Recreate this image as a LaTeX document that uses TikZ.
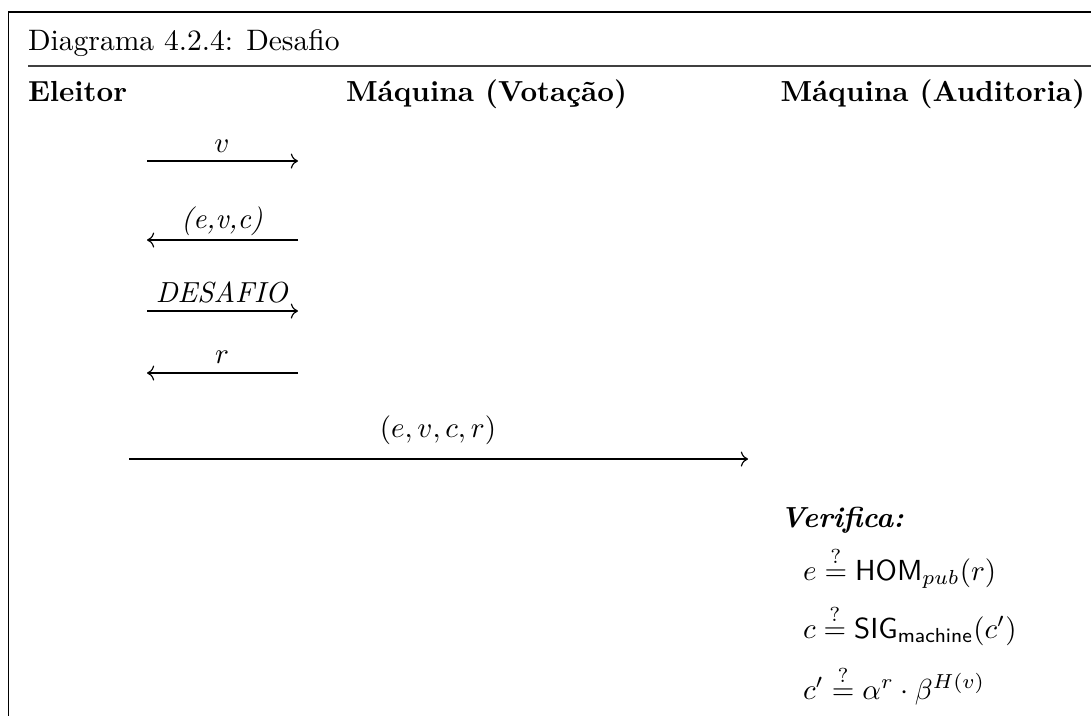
\documentclass[tikz,border=0pt]{standalone}
\usepackage{fontspec}
\usepackage{amsmath}
\usetikzlibrary{arrows.meta}
\begin{document}
\begin{tikzpicture}[x=0.3448pt,y=-0.3448pt,
  txt/.style={inner sep=0pt, outer sep=0pt, font=\fontsize{10}{12}\selectfont},
  hdr/.style={inner sep=0pt, outer sep=0pt, font=\fontsize{10}{12}\selectfont\bfseries},
  ttl/.style={inner sep=0pt, outer sep=0pt, font=\fontsize{10.2}{12}\selectfont},
  msg/.style={line width=0.4pt, -{Computer Modern Rightarrow}},
  frameline/.style={line width=0.45pt},
  rule/.style={line width=0.5pt, black!75}]
\useasboundingbox (0,0) rectangle (1091,716);
% frame and title
\draw[frameline] (1091,12) -- (8.5,12) -- (8.5,716);
\node[ttl, anchor=base west] (title) at (28,50) {Diagrama 4.2.4: Desafio};
\coordinate (rl) at (28,66);
\coordinate (rr) at (1091,66);
\draw[rule] (rl) -- (rr);
% headers
\node[hdr, anchor=base west] (eleitor) at (28,101) {Eleitor};
\node[hdr, anchor=base west] (votacao) at (346,101) {Máquina (Votação)};
\node[hdr, anchor=base east] (auditoria) at (1085,101) {Máquina (Auditoria)};
% short messages
\coordinate (m1a) at (147,161); \coordinate (m1b) at (298,161);
\coordinate (m2a) at (298,240); \coordinate (m2b) at (147,240);
\coordinate (m3a) at (147,311); \coordinate (m3b) at (298,311);
\coordinate (m4a) at (298,373); \coordinate (m4b) at (147,373);
\draw[msg] (m1a) -- (m1b);
\draw[msg] (m2a) -- (m2b);
\draw[msg] (m3a) -- (m3b);
\draw[msg] (m4a) -- (m4b);
\node[txt, anchor=base] (l1) at (222,152) {$v$};
\node[txt, anchor=base] (l2) at (222,228) {\textit{(e,v,c)}};
\node[txt, anchor=base] (l3) at (222,302) {\textit{DESAFIO}};
\node[txt, anchor=base] (l4) at (222,363) {$r$};
% long message
\coordinate (m5a) at (129,459); \coordinate (m5b) at (748,459);
\draw[msg] (m5a) -- (m5b);
\node[txt, anchor=base] (l5) at (438,437) {$(e, v, c, r)$};
% verification
\node[txt, anchor=base west] (verifica) at (780,527) {\textbf{\textit{Verifica:}}};
\node[txt, anchor=base west] (eq1) at (803,580) {$e \stackrel{?}{=} \mathsf{HOM}_{pub}(r)$};
\node[txt, anchor=base west] (eq2) at (803,638) {$c \stackrel{?}{=} \mathsf{SIG}_{\mathsf{machine}}(c')$};
\node[txt, anchor=base west] (eq3) at (803,699) {$c' \stackrel{?}{=} \alpha^{r} \cdot \beta^{H(v)}$};
\end{tikzpicture}
\end{document}
